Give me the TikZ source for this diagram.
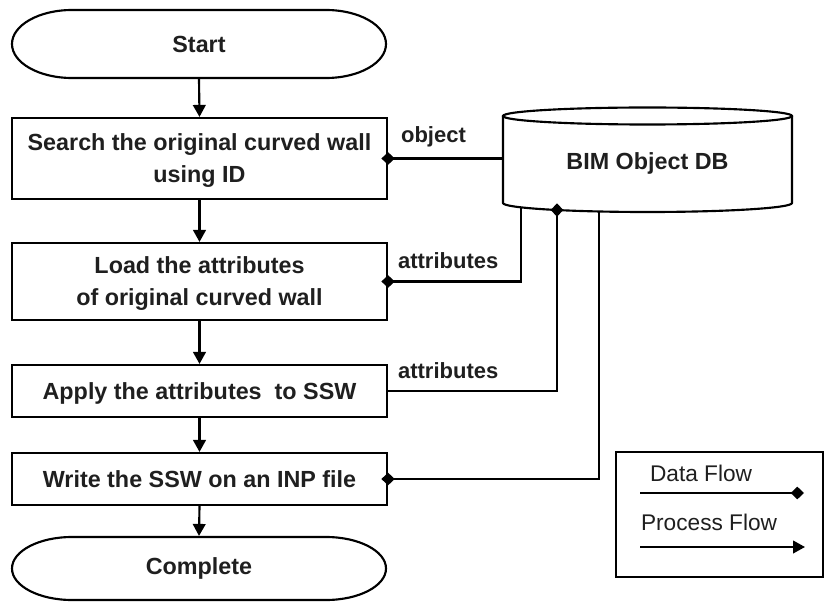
\documentclass[tikz,border=0pt]{standalone}
\usepackage{fontspec}
\setmainfont{Liberation Sans}
\usetikzlibrary{arrows.meta,calc}

\begin{document}
\begin{tikzpicture}[x=0.75pt,y=-0.75pt,line width=1.6pt,
  txt/.style={font=\bfseries\fontsize{17.5}{24}\selectfont,text=black!88},
  box/.style={txt,draw,inner sep=0pt,align=center,minimum width=281.25pt,text depth=0pt},
  term/.style={txt,inner sep=0pt,minimum width=280.5pt},
  lbl/.style={font=\bfseries\fontsize{16.5}{20}\selectfont,text=black!88,anchor=west,inner sep=0pt},
  leg/.style={font=\fontsize{17}{20}\selectfont,text=black!88,anchor=west,inner sep=0pt},
  pflow/.style={-{Triangle[length=9pt,width=9.5pt]}},
  dstart/.style={{Diamond[length=10pt,width=9.5pt]}-,shorten <=-5pt},
  dend/.style={-{Diamond[length=10pt,width=9.5pt]},shorten >=-5pt},
]
\useasboundingbox (0,0) rectangle (825,602);

% terminals
\node[term,minimum height=51pt] (start) at (199,44) {Start};
\draw ($(start.center)+(-127,-34)$) -- ($(start.center)+(127,-34)$)
  arc[start angle=90,end angle=-90,x radius=45pt,y radius=25.5pt]
  -- ($(start.center)+(-127,34)$)
  arc[start angle=270,end angle=90,x radius=45pt,y radius=25.5pt] -- cycle;

\node[term,minimum height=47.25pt] (complete) at (199,568.5) {Complete};
\draw ($(complete.center)+(-127,-31.5)$) -- ($(complete.center)+(127,-31.5)$)
  arc[start angle=90,end angle=-90,x radius=45pt,y radius=23.625pt]
  -- ($(complete.center)+(-127,31.5)$)
  arc[start angle=270,end angle=90,x radius=45pt,y radius=23.625pt] -- cycle;

% process steps
\node[box,minimum height=60.75pt] (box1) at (199.5,158.5) {Search the original curved wall\\using ID};
\node[box,minimum height=57.75pt] (box2) at (199.5,281.5) {Load the attributes\\of original curved wall};
\node[box,minimum height=39pt] (box3) at (199.5,391) {Apply the attributes~ to SSW};
\node[box,minimum height=39pt] (box4) at (199.5,479) {Write the SSW on an INP file};

% database cylinder
\node[txt] (db) at (647.5,163) {BIM Object DB};
\draw (647.5,116) ellipse[x radius=108.375pt,y radius=6.375pt];
\draw (503,116) -- (503,203)
  arc[start angle=180,end angle=360,x radius=108.375pt,y radius=6.75pt] -- (792,116);
\coordinate (dbw) at (503,158.5);
\coordinate (dba) at (521,207.4);
\coordinate (dbb) at (557,210);
\coordinate (dbc) at (599,211.5);

% process flow
\draw[pflow] (start.south) -- (box1.north);
\draw[pflow] (box1.south) -- (box2.north);
\draw[pflow] (box2.south) -- (box3.north);
\draw[pflow] (box3.south) -- (box4.north);
\draw[pflow] (box4.south) -- (complete.north);

% data flow
\draw[dstart] (box1.east) -- (box1.east -| dbw);
\draw[dstart] (box2.east) -| (dba);
\draw[dend] (box3.east) -| (dbb);
\draw[dstart] (box4.east) -| (dbc);

\node[lbl] (lobj) at (400,137) {object};
\node[lbl] (latt1) at (397,261) {attributes};
\node[lbl] (latt2) at (397,371) {attributes};

% legend
\node[draw,inner sep=0pt,minimum width=155.25pt,minimum height=93.75pt] (legend) at (719.5,514.5) {};
\node[leg] (ldata) at (649,473) {Data Flow};
\node[leg] (lproc) at (640,522) {Process Flow};
\coordinate (ld1) at (640,493);
\coordinate (ld2) at (804,493);
\coordinate (lp1) at (640,547);
\coordinate (lp2) at (805,547);
\draw[-{Diamond[length=10pt,width=9.5pt]}] (ld1) -- (ld2);
\draw[pflow] (lp1) -- (lp2);
\end{tikzpicture}
\end{document}
